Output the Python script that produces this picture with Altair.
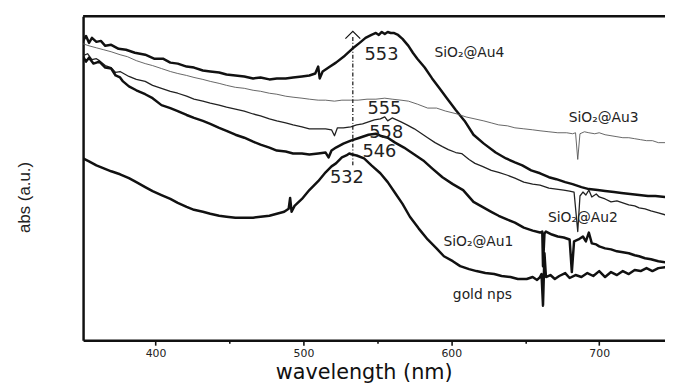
import altair as alt
import pandas as pd

# ---------------- data (wavelength nm, absorbance a.u.) ----------------
au4_nm = [351, 353, 355, 357, 360, 363, 366, 370, 375, 380, 386, 393, 399, 405, 410, 415, 421, 426, 432, 437,
          443, 448, 454, 460, 466, 471, 477, 482, 488, 493, 499, 504, 508, 510, 511, 513, 517, 522, 528, 533,
          538, 542, 546, 549, 551, 553, 555, 557, 559, 561, 564, 567, 571, 574, 577, 582, 587, 592, 597, 603,
          609, 615, 622, 630, 637, 643, 648, 654, 660, 666, 671, 677, 682, 688, 693, 699, 704, 710, 715, 721,
          727, 733, 738, 744.5]
au4_abs = [303, 308, 301, 306, 302, 303, 298, 299, 295, 294, 291, 289, 285, 285, 281, 280, 277, 276, 273, 272,
           271, 269, 268, 267, 265, 266, 264, 265, 265, 266, 267, 268, 270, 277, 265, 272, 276, 281, 288, 295,
           301, 306, 309, 311, 309, 312, 310, 312, 311, 311, 309, 305, 298, 291, 285, 276, 265, 255, 245, 233,
           222, 208, 199, 190, 184, 180, 177, 172, 169, 165, 163, 160, 158, 155, 153, 152, 151, 150, 149, 148,
           147, 146, 146, 145]

au3_nm = [351, 355, 360, 365, 370, 376, 381, 387, 393, 398, 404, 410, 415, 421, 426, 432, 437, 443, 448, 454,
          460, 466, 471, 477, 482, 488, 493, 499, 504, 510, 515, 521, 526, 532, 537, 543, 549, 555, 560, 566,
          571, 577, 584, 590, 596, 604, 610, 616, 622, 627, 632, 638, 643, 649, 655, 660, 666, 672, 678, 682,
          684, 685.5, 687, 690, 693, 697, 700, 704, 708, 712, 716, 720, 724, 728, 732, 736, 740, 744.5]
au3_abs = [300, 298, 296, 294, 292, 289, 287, 283, 280, 278, 275, 272, 270, 268, 266, 264, 262, 260, 258, 256,
           255, 253, 252, 250, 249, 247, 246, 245, 244, 243, 243, 242, 243, 243, 243, 244, 244, 245, 244, 243,
           242, 239, 235, 235, 232, 229, 226, 224, 222, 220, 218, 217, 215, 214, 213, 212, 211, 210, 210, 209,
           210, 183, 209, 211, 210, 209, 210, 208, 207, 206, 205, 205, 204, 203, 202, 202, 200, 200]

au2_nm = [351, 354, 357, 360, 362, 366, 370, 373, 376, 382, 387, 393, 398, 404, 410, 415, 421, 426, 432, 437,
          443, 448, 454, 460, 466, 471, 477, 482, 488, 493, 499, 504, 510, 515, 519, 521, 523, 527, 532, 536,
          540, 544, 548, 552, 555, 557, 560, 563, 566, 570, 575, 580, 584, 589, 594, 598, 603, 607, 612, 616,
          621, 627, 632, 638, 643, 649, 655, 660, 666, 671, 676, 680, 683, 685.5, 687, 689, 691, 693, 695, 698,
          700, 704, 708, 712, 716, 720, 724, 727, 731, 735, 740, 744.5]
au2_abs = [288, 290, 284, 285, 283, 278, 276, 271, 272, 267, 264, 262, 258, 255, 252, 250, 247, 244, 242, 240,
           238, 236, 234, 232, 229, 227, 224, 222, 220, 218, 216, 214, 214, 214, 213, 207, 215, 215, 216, 218,
           219, 221, 223, 224, 226, 222, 225, 223, 221, 218, 214, 209, 205, 200, 196, 193, 190, 189, 183, 179,
           176, 172, 170, 167, 164, 160, 158, 157, 154, 153, 152, 151, 150, 110, 146, 150, 147, 152, 145, 148,
           145, 143, 140, 141, 139, 137, 136, 134, 133, 131, 129, 127]

au1_nm = [351, 353, 355, 358, 362, 366, 370, 373, 376, 378, 382, 387, 393, 398, 404, 410, 415, 421, 426, 432,
          437, 443, 448, 454, 460, 466, 471, 477, 482, 488, 493, 499, 504, 510, 515, 517, 519, 522, 527, 532,
          538, 544, 549, 552, 557, 562, 568, 574, 581, 587, 594, 601, 608, 615, 621, 627, 632, 638, 643, 649,
          655, 660, 661.5, 662, 663, 664, 668, 672, 676, 680, 681.5, 683, 686, 689, 691, 693, 695, 698, 700, 704,
          708, 712, 716, 720, 724, 727, 731, 735, 740, 744.5]
au1_abs = [287, 282, 286, 280, 282, 276, 275, 268, 266, 262, 257, 253, 249, 245, 238, 235, 232, 228, 225, 222,
           219, 215, 212, 208, 205, 201, 198, 195, 192, 191, 189, 189, 188, 189, 190, 185, 192, 195, 199, 202,
           205, 208, 209, 207, 205, 200, 195, 189, 182, 174, 165, 158, 152, 140, 135, 130, 126, 122, 119, 114,
           111, 109, 110, 75, 108, 110, 107, 105, 104, 102, 69, 100, 102, 105, 100, 109, 98, 97, 95, 93,
           92, 90, 89, 88, 86, 85, 83, 82, 80, 79]

gold_nm = [351, 355, 360, 365, 370, 376, 382, 387, 393, 398, 404, 410, 415, 421, 426, 432, 437, 443, 448, 454,
           460, 466, 471, 477, 482, 487, 490, 491, 492, 494, 499, 504, 510, 515, 519, 522, 526, 529, 531, 533,
           536, 541, 546, 552, 557, 562, 567, 572, 578, 584, 590, 595, 601, 606, 612, 617, 623, 629, 634, 640,
           645, 651, 655, 658, 660, 661, 662, 663, 664, 667, 670, 673, 677, 680, 684, 688, 692, 696, 700, 704,
           708, 712, 716, 720, 724, 728, 732, 736, 740, 744.5]
gold_abs = [184, 181, 177, 174, 171, 168, 164, 160, 155, 151, 147, 143, 139, 135, 132, 130, 128, 126, 125, 124,
            124, 124, 125, 126, 128, 130, 133, 144, 130, 136, 143, 152, 161, 170, 176, 179, 185, 187, 189, 188,
            187, 184, 177, 169, 160, 149, 138, 125, 113, 102, 93, 85, 80, 75, 72, 70, 68, 67, 65, 64,
            62, 62, 64, 61, 64, 67, 35, 88, 64, 66, 62, 65, 68, 63, 66, 64, 68, 65, 70, 64,
            69, 66, 70, 67, 71, 70, 73, 70, 73, 74]

series_names = ["SiO2@Au4", "SiO2@Au3", "SiO2@Au2", "SiO2@Au1", "gold nps"]
series_colors = ["#111111", "#555555", "#222222", "#111111", "#111111"]
series_widths = [2.5, 0.9, 1.3, 2.5, 2.5]

# peak annotations
peak_text = ["553", "555", "558", "546", "532"]
peak_nm = [552.8, 554.8, 556.0, 551.4, 529.4]
peak_abs = [284, 229, 205, 185, 159]

sample_text = ["SiO\u2082@Au4", "SiO\u2082@Au3", "SiO\u2082@Au2", "SiO\u2082@Au1", "gold nps"]
sample_nm = [612.2, 703.0, 689.0, 618.3, 621.0]
sample_abs = [287, 221, 120, 95, 42]

marker_nm = [533.4]
marker_low = [177]
marker_high = [307]
marker_tip = [309]

x_ticks = [400, 450, 500, 550, 600, 650, 700]

# ---------------- build tables ----------------
series_data = [
    pd.DataFrame({"nm": nm, "abs": ab})
    for nm, ab in zip([au4_nm, au3_nm, au2_nm, au1_nm, gold_nm],
                      [au4_abs, au3_abs, au2_abs, au1_abs, gold_abs])
]
peaks = pd.DataFrame({"nm": peak_nm, "abs": peak_abs, "t": peak_text})
samples = pd.DataFrame({"nm": sample_nm, "abs": sample_abs, "t": sample_text})
marker = pd.DataFrame({"nm": marker_nm, "lo": marker_low, "hi": marker_high, "tip": marker_tip})

W, H = 589, 328
x_scale = alt.Scale(domain=[351, 744.5], nice=False, zero=False)
y_scale = alt.Scale(domain=[0, 328], nice=False, zero=False)

x_axis = alt.Axis(
    values=x_ticks,
    labelExpr="datum.value % 100 === 0 ? datum.label : ''",
    tickSize=alt.ExprRef(expr="datum.value % 100 === 0 ? 5 : 3"),
    tickWidth=1.6, tickColor="#111", domainColor="#111", domainWidth=2.5,
    labelFont="DejaVu Sans", labelFontSize=11, labelColor="#222", labelPadding=2,
    grid=False,
    title="wavelength (nm)", titleFont="DejaVu Sans", titleFontSize=21, titleFontWeight="normal",
    titleColor="#111", titleX=284, titleY=33, titleAlign="center", titleBaseline="middle",
)
y_axis = alt.Axis(
    ticks=False, labels=False, grid=False, domainColor="#111", domainWidth=2.5,
    title="abs (a.u.)", titleFont="Liberation Sans", titleFontSize=17, titleFontWeight="normal",
    titleColor="#222", titleAngle=270, titleX=-59, titleY=183, titleAlign="center",
    titleBaseline="middle",
)

layers = []
for i, (d, col, sw) in enumerate(zip(series_data, series_colors, series_widths)):
    if i == 0:
        enc = dict(x=alt.X("nm:Q", scale=x_scale, axis=x_axis), y=alt.Y("abs:Q", scale=y_scale, axis=y_axis))
    else:
        enc = dict(x=alt.X("nm:Q", scale=x_scale), y=alt.Y("abs:Q", scale=y_scale))
    layers.append(
        alt.Chart(d).mark_line(clip=True, strokeJoin="round", strokeCap="round",
                               color=col, strokeWidth=sw).encode(**enc)
    )

vline = alt.Chart(marker).mark_rule(color="#111", strokeWidth=1.2, strokeDash=[4, 2, 1, 2]).encode(
    x=alt.X("nm:Q", scale=x_scale), y=alt.Y("lo:Q", scale=y_scale), y2="hi:Q"
)
chevron = alt.Chart(marker).mark_point(
    shape="M-1,0.5L0,-0.5L1,0.5", filled=False, stroke="#111", strokeWidth=1.2, size=225, opacity=1
).encode(x=alt.X("nm:Q", scale=x_scale), y=alt.Y("tip:Q", scale=y_scale))

peak_lbl = alt.Chart(peaks).mark_text(
    font="DejaVu Sans", fontSize=18, color="#222", align="center", baseline="alphabetic"
).encode(x=alt.X("nm:Q", scale=x_scale), y=alt.Y("abs:Q", scale=y_scale), text="t:N")

sample_lbl = alt.Chart(samples).mark_text(
    font="DejaVu Sans", fontSize=14, color="#222", align="center", baseline="alphabetic"
).encode(x=alt.X("nm:Q", scale=x_scale), y=alt.Y("abs:Q", scale=y_scale), text="t:N")

top_border = alt.Chart(marker).mark_rule(color="#111", strokeWidth=2.5).encode(
    x=alt.value(0), x2=alt.value(W), y=alt.value(0)
)

chart = alt.layer(*layers, vline, chevron, peak_lbl, sample_lbl, top_border).properties(
    width=W, height=H,
    autosize=alt.AutoSizeParams(type="none"),
    padding={"left": 76, "top": 6, "right": 0, "bottom": 41},
).configure_view(stroke=None).configure(background="white")

chart.save("out.html", embed_options={"renderer": "svg", "actions": False})
